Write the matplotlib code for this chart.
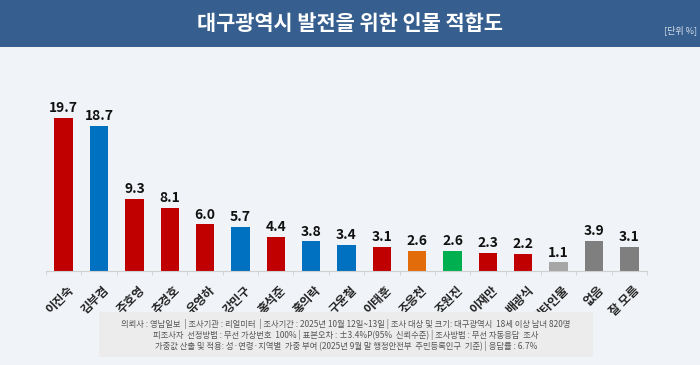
import numpy as np
import matplotlib.pyplot as plt
from matplotlib.patches import Rectangle

plt.rcParams['font.family'] = ['Noto Sans CJK KR', 'DejaVu Sans']

names = ['이진숙', '김부겸', '주호영', '추경호', '유영하', '강민구', '홍석준', '홍의락', '구윤철',
         '이태훈', '조응천', '조원진', '이재만', '배광식', '기타인물', '없음', '잘 모름']
values = [19.7, 18.7, 9.3, 8.1, 6.0, 5.7, 4.4, 3.8, 3.4, 3.1, 2.6, 2.6, 2.3, 2.2, 1.1, 3.9, 3.1]
colors = ['#C00000', '#0070C0', '#C00000', '#C00000', '#C00000', '#0070C0', '#C00000', '#0070C0',
          '#0070C0', '#C00000', '#E36C0A', '#00B050', '#C00000', '#C00000', '#A6A6A6', '#7F7F7F', '#7F7F7F']

title = '대구광역시 발전을 위한 인물 적합도'
unit = '[단위 %]'
notes = ['의뢰사 : 영남일보  | 조사기관 : 리얼미터  | 조사기간 : 2025년 10월 12일~13일 | 조사 대상 및 크기: 대구광역시  18세 이상 남녀 820명',
         '피조사자  선정방법 : 무선 가상번호  100% | 표본오차 : ±3.4%P(95%  신뢰수준) | 조사방법 : 무선 자동응답  조사',
         '가중값 산출 및 적용: 성·연령·지역별  가중 부여 (2025년 9월 말 행정안전부  주민등록인구  기준) | 응답률 : 6.7%']

fig = plt.figure(figsize=(7, 3.65), dpi=100)
fig.patch.set_facecolor('#F0F3F7')

# header band
fig.patches.append(Rectangle((0, 1 - 47 / 365), 1, 47 / 365, transform=fig.transFigure,
                             facecolor='#365F8F', edgecolor='none', zorder=0))
fig.text(0.5, 1 - 23 / 365, title, color='white', fontsize=15, fontweight='bold',
         ha='center', va='center')
fig.text(0.972, 1 - 30 / 365, unit, color='#D8E0EA', fontsize=6.5, ha='center', va='center')

ax = fig.add_axes([46 / 700, 94 / 365, 601 / 700, 171 / 365])
ax.set_facecolor('none')
x = np.arange(len(names))
ax.bar(x, values, width=0.52, color=colors, zorder=2)
for xi, v in zip(x, values):
    ax.text(xi, v + 0.35, f'{v:.1f}', ha='center', va='bottom', fontsize=10,
            fontweight='bold', color='#111111')

ax.set_xlim(-0.5, len(names) - 0.5)
ax.set_ylim(0, 22)
for s in ['top', 'right', 'left']:
    ax.spines[s].set_visible(False)
ax.spines['bottom'].set_color('#D0D0D0')
ax.set_yticks([])
ax.set_xticks(np.arange(len(names) + 1) - 0.5, minor=True)
ax.tick_params(axis='x', which='minor', length=3, color='#D0D0D0')
ax.set_xticks(x + 0.1)
ax.set_xticklabels(names, rotation=45, ha='right', va='top', rotation_mode='anchor',
                   fontsize=8.7, fontweight='bold', color='#222222')
ax.tick_params(axis='x', which='major', length=0, pad=9)

# footnote box
fig.patches.append(Rectangle((99 / 700, 8 / 365), 494 / 700, 45 / 365, transform=fig.transFigure,
                             facecolor='#ECECEC', edgecolor='none', zorder=0))
for i, line in enumerate(notes):
    fig.text(346 / 700, (365 - 324 - i * 11) / 365, line, fontsize=6.0, color='#555555',
             ha='center', va='center')

fig.savefig('out.png', dpi=100, facecolor=fig.get_facecolor())
